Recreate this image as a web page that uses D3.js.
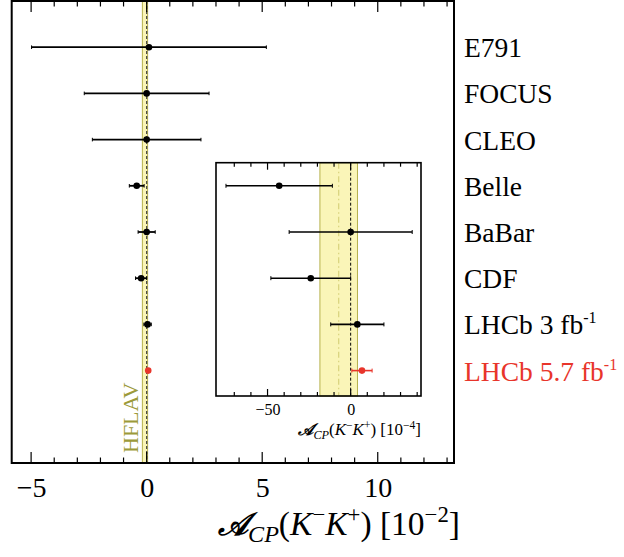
<!DOCTYPE html>
<html><head><meta charset="utf-8">
<script src="https://cdn.jsdelivr.net/npm/d3@7"></script>
<style>body{margin:0;background:#fff}svg{display:block}text{font-family:"Liberation Serif","Times New Roman",serif}</style>
</head><body><svg id="c" width="624" height="557"></svg>
<script>
// values in units of 10^-2
const experiments = ["E791","FOCUS","CLEO","Belle","BaBar","CDF","LHCb 3 fb","LHCb 5.7 fb"];
const superscripts = ["","","","","","","-1","-1"];
const centralValues = [0.10, 0.00, 0.00, -0.43, 0.00, -0.24, 0.04, 0.068];
const uncertainties = [5.08, 2.70, 2.35, 0.32, 0.37, 0.24, 0.16, 0.061];
const highlighted = [false,false,false,false,false,false,false,true];
const insetRows = ["Belle","BaBar","CDF","LHCb 3 fb","LHCb 5.7 fb"];
const hflavCentral = -0.072, hflavError = 0.113;
const mainTickLabels = [-5, 0, 5, 10];
const insetTickLabels = [-50, 0];

const data = experiments.map((e,i)=>({name:e, sup:superscripts[i], v:centralValues[i], e:uncertainties[i], red:highlighted[i], row:i}));
const RED = "#e8352b", BAND = "#faf5b8", BANDEDGE = "#b7b24e", OLIVE = "#9c9a3a";

const svg = d3.select("#c");
const x = d3.scaleLinear().domain([-5.84, 13.3]).range([11.7, 454]);
const y = d3.scaleLinear().domain([-1, 9]).range([1, 463]);

const main = svg.append("g");
main.append("rect").attr("x", x(hflavCentral-hflavError)).attr("y", y(-1))
  .attr("width", x(hflavCentral+hflavError)-x(hflavCentral-hflavError)).attr("height", y(9)-y(-1))
  .attr("fill", BAND).attr("stroke", BANDEDGE).attr("stroke-width", 1);
main.append("line").attr("x1", x(0)).attr("x2", x(0)).attr("y1", y(-1)).attr("y2", y(9))
  .attr("stroke", "#444").attr("stroke-width", 1.2).attr("stroke-dasharray", "3,2");
main.append("text").attr("transform", `translate(${x(hflavCentral)-7},453) rotate(-90)`)
  .attr("fill", OLIVE).attr("font-size", 22).text("HFLAV");

function drawPoints(g, xs, rows, r, capH, lw){
  const pts = g.selectAll("g.pt").data(rows).join("g").attr("class","pt");
  pts.append("line").attr("x1", d=>xs(d.v-d.e)).attr("x2", d=>xs(d.v+d.e)).attr("y1", d=>y(d.row)).attr("y2", d=>y(d.row))
    .attr("stroke", d=>d.red?RED:"#000").attr("stroke-width", lw);
  [-1,1].forEach(s=>pts.append("line").attr("x1", d=>xs(d.v+s*d.e)).attr("x2", d=>xs(d.v+s*d.e))
    .attr("y1", d=>y(d.row)-capH).attr("y2", d=>y(d.row)+capH).attr("stroke", d=>d.red?RED:"#000").attr("stroke-width", 1));
  pts.append("circle").attr("cx", d=>xs(d.v)).attr("cy", d=>y(d.row)).attr("r", r).attr("fill", d=>d.red?RED:"#000");
}
drawPoints(main, x, data, 3.3, 1.8, 1.8);

function ticks(g, xs, vals, majors, yBase, dir, lenMaj, lenMin){
  g.selectAll(null).data(vals).join("line").attr("x1", d=>xs(d)).attr("x2", d=>xs(d))
    .attr("y1", yBase).attr("y2", d=>yBase + dir*(majors.includes(d)?lenMaj:lenMin))
    .attr("stroke", "#000").attr("stroke-width", 1.2);
}
const mainTicks = d3.range(-5, 14, 1);
ticks(main, x, mainTicks, mainTickLabels, y(-1), 1, 11, 5.5);
ticks(main, x, mainTicks, mainTickLabels, y(9), -1, 11, 5.5);
const bottomAxis = main.append("g").attr("transform", `translate(0,${y(9)})`)
  .call(d3.axisBottom(x).tickValues(mainTickLabels).tickSize(0).tickPadding(0).tickFormat(d=>d<0?"\u2212"+Math.abs(d):d));
bottomAxis.select(".domain").remove();
bottomAxis.selectAll("text").attr("font-size", 28).attr("fill","#000").attr("dy", null).attr("y", 34)
  .style("font-family", '"Liberation Serif",serif');
main.append("rect").attr("x", x.range()[0]).attr("y", y(-1)).attr("width", x.range()[1]-x.range()[0]).attr("height", y(9)-y(-1))
  .attr("fill","none").attr("stroke","#000").attr("stroke-width", 2);

function title(g, xr, yb, fs, exp){
  const t = g.append("text").attr("x", xr).attr("y", yb).attr("text-anchor","end").attr("font-size", fs);
  t.append("tspan").attr("font-family","DejaVu Serif").attr("font-style","italic").attr("font-weight","bold").attr("font-size", fs*0.95).text("\uD835\uDC9C");
  t.append("tspan").attr("font-style","italic").attr("font-size", fs*0.72).attr("dy", fs*0.22).text("CP");
  t.append("tspan").attr("dy", -fs*0.22).text("(");
  t.append("tspan").attr("font-style","italic").text("K");
  t.append("tspan").attr("font-size", fs*0.68).attr("dy", -fs*0.38).text("\u2212");
  t.append("tspan").attr("font-style","italic").attr("dy", fs*0.38).text("K");
  t.append("tspan").attr("font-size", fs*0.68).attr("dy", -fs*0.38).text("+");
  t.append("tspan").attr("dy", fs*0.38).text(") [10");
  t.append("tspan").attr("font-size", fs*0.68).attr("dy", -fs*0.38).text("\u2212"+exp);
  t.append("tspan").attr("dy", fs*0.38).text("]");
}
title(svg, 460, 535, 33.5, "2");

const lab = svg.selectAll("text.lab").data(data).join("text").attr("class","lab")
  .attr("x", 464).attr("y", d=>y(d.row)+10).attr("font-size", 27.5).attr("fill", d=>d.red?RED:"#000");
lab.append("tspan").text(d=>d.name);
lab.filter(d=>d.sup).append("tspan").attr("font-size", 16).attr("dy", -11).text(d=>d.sup);

// inset
const xi = d3.scaleLinear().domain([-0.81, 0.423]).range([216, 421]);
const inset = svg.append("g");
const iy0 = y(2.5), iy1 = 396;
inset.append("rect").attr("x", 216).attr("y", iy0).attr("width", 205).attr("height", iy1-iy0).attr("fill","#fff");
inset.append("rect").attr("x", xi(hflavCentral-hflavError)).attr("y", iy0)
  .attr("width", xi(hflavCentral+hflavError)-xi(hflavCentral-hflavError)).attr("height", iy1-iy0)
  .attr("fill", BAND).attr("stroke", BANDEDGE).attr("stroke-width", 1);
inset.append("line").attr("x1", xi(hflavCentral)).attr("x2", xi(hflavCentral)).attr("y1", iy0).attr("y2", iy1)
  .attr("stroke", "#d8d27c").attr("stroke-width", 1.2).attr("stroke-dasharray", "6,3,1.5,3");
inset.append("line").attr("x1", xi(0)).attr("x2", xi(0)).attr("y1", iy0).attr("y2", iy1)
  .attr("stroke", "#000").attr("stroke-width", 1).attr("stroke-dasharray", "3,2");
drawPoints(inset, xi, data.filter(d=>insetRows.includes(d.name)), 3.3, 2, 1.6);
const insetTicks = d3.range(-70, 41, 10).map(d=>d/100);
const insetMaj = insetTickLabels.map(d=>d/100);
ticks(inset, xi, insetTicks, insetMaj, iy0, 1, 7, 4);
ticks(inset, xi, insetTicks, insetMaj, iy1, -1, 7, 4);
const ia = inset.append("g").attr("transform", `translate(0,${iy1})`)
  .call(d3.axisBottom(xi).tickValues(insetMaj).tickSize(0).tickFormat(d=>{const v=Math.round(d*100);return v<0?"\u2212"+Math.abs(v):v;}));
ia.select(".domain").remove();
ia.selectAll("text").attr("font-size", 16).attr("fill","#000").attr("dy", null).attr("y", 19)
  .style("font-family", '"Liberation Serif",serif');
inset.append("rect").attr("x", 216).attr("y", iy0).attr("width", 205).attr("height", iy1-iy0)
  .attr("fill","none").attr("stroke","#000").attr("stroke-width", 1.6);
title(svg, 421, 435, 17, "4");
</script></body></html>
